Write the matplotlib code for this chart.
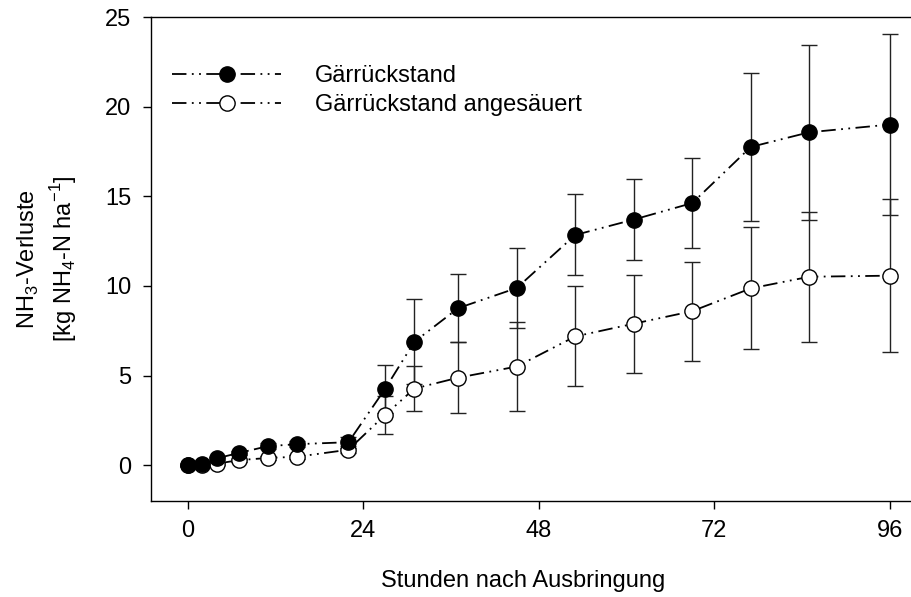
import numpy as np
import matplotlib.pyplot as plt

plt.rcParams['font.family'] = ['Liberation Sans', 'DejaVu Sans']

# Stunden nach Ausbringung
stunden = [0, 2, 4, 7, 11, 15, 22, 27, 31, 37, 45, 53, 61, 69, 77, 85, 96]

# Gärrückstand (gefüllte Kreise)
gr = [0.0, 0.05, 0.38, 0.68, 1.06, 1.17, 1.28, 4.25, 6.88, 8.76, 9.88, 12.84, 13.7, 14.62, 17.75, 18.57, 19.0]
gr_se = [0.02, 0.05, 0.1, 0.1, 0.15, 0.15, 0.3, 1.34, 2.37, 1.9, 2.25, 2.26, 2.24, 2.5, 4.13, 4.87, 5.07]

# Gärrückstand angesäuert (offene Kreise)
ga = [0.0, 0.03, 0.08, 0.28, 0.4, 0.47, 0.86, 2.8, 4.27, 4.88, 5.5, 7.18, 7.89, 8.59, 9.86, 10.51, 10.57]
ga_se = [0.02, 0.03, 0.05, 0.08, 0.1, 0.1, 0.2, 1.08, 1.27, 1.97, 2.48, 2.79, 2.74, 2.76, 3.4, 3.63, 4.27]

fig = plt.figure(figsize=(9.11, 5.97), dpi=100)
ax = fig.add_axes([151/911, 1-501/597, 768/911, 484/597])

ls = (0, (8, 3, 1, 3, 1, 3))
ax.errorbar(stunden, gr, yerr=gr_se, fmt='none', ecolor='#222222', elinewidth=1.0,
            capsize=5.5, capthick=1.0, zorder=1)
ax.errorbar(stunden, ga, yerr=ga_se, fmt='none', ecolor='#222222', elinewidth=1.0,
            capsize=5.5, capthick=1.0, zorder=1)
ax.plot(stunden, gr, linestyle=ls, color='black', lw=1.3, marker='o', ms=11,
        mfc='black', mec='black', mew=1.0, label='Gärrückstand', zorder=3)
ax.plot(stunden, ga, linestyle=ls, color='black', lw=1.3, marker='o', ms=11,
        mfc='white', mec='black', mew=1.0, label='Gärrückstand angesäuert', zorder=2)

ax.set_xlim(-5, 100)
ax.set_ylim(-2, 25)
ax.set_xticks([0, 24, 48, 72, 96])
ax.set_yticks([0, 5, 10, 15, 20, 25])
ax.tick_params(direction='out', length=6, width=1, labelsize=17)
ax.tick_params(axis='x', pad=8)
ax.tick_params(axis='y', pad=8)
ax.spines['right'].set_visible(False)
for s in ['left', 'top', 'bottom']:
    ax.spines[s].set_linewidth(1.0)

ax.set_xlabel('Stunden nach Ausbringung', fontsize=17)
ax.xaxis.set_label_coords((523 - 151) / 768, -0.142)
ax.set_ylabel('NH$_\\mathregular{3}$-Verluste\n[kg NH$_\\mathregular{4}$-N ha$^\\mathregular{-1}$]',
              fontsize=17, labelpad=19, linespacing=1.3)

ax.legend(loc='upper left', bbox_to_anchor=(0.0, 0.945), frameon=False, fontsize=17,
          handlelength=4.6, handletextpad=1.45, labelspacing=0.3)

fig.savefig('out.png', dpi=100)
